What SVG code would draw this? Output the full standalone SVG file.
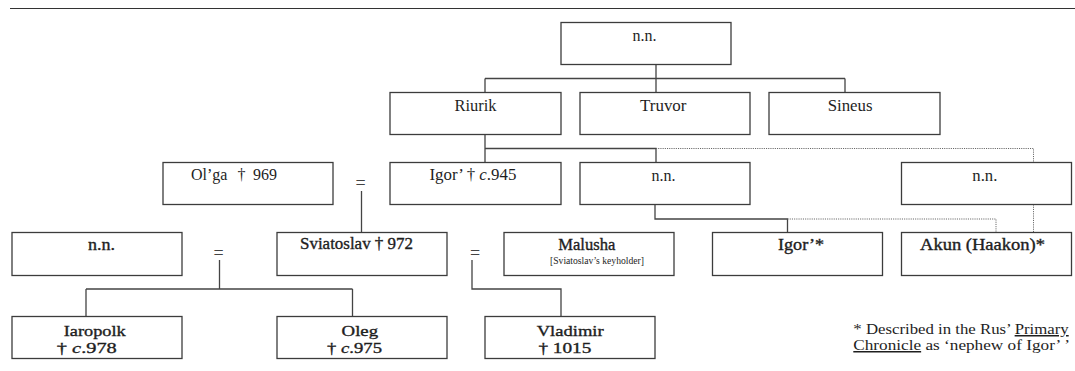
<svg xmlns="http://www.w3.org/2000/svg" width="1075" height="371" viewBox="0 0 1075 371">
<style>
.box{fill:#fff;stroke:#3c3c3c;stroke-width:1.3}
.ln{fill:none;stroke:#444;stroke-width:1.3}
.dot{fill:none;stroke:#666;stroke-width:1;stroke-dasharray:1.1 1.1}
.t{font-family:"Liberation Serif","Times New Roman",serif;font-size:16px;fill:#1e1e1e}
.b{stroke:#1e1e1e;stroke-width:0.35}
.r4{font-size:15px}
.s{font-size:10px}
.eq{font-family:"Liberation Serif","Times New Roman",serif;font-size:18px;fill:#444;text-anchor:middle}
.i{font-style:italic}
</style>
<rect width="1075" height="371" fill="#fff"/>
<line x1="10" y1="8.5" x2="1075" y2="8.5" stroke="#333" stroke-width="1.2"/>

<g id="connectors">
  <path class="ln" d="M656 64.5V78.5M485 78.5H845M485 78.5V92.5M656 78.5V92.5M845 78.5V92.5"/>
  <path class="ln" d="M485 134.5V162.5M485 148.5H656V162.5"/>
  <path class="dot" d="M656 148.5H1033.5V162.5"/>
  <path class="ln" d="M361.5 191V232.5"/>
  <path class="ln" d="M655 204.5V219H787.5V232.5"/>
  <path class="dot" d="M787.5 219H996V232.5M1033.5 204.5V232.5"/>
  <path class="ln" d="M219.5 260V289M86 289H352.5M86 289V316.5M352.5 289V316.5"/>
  <path class="ln" d="M472 260V289H561V316.5"/>
</g>

<g id="marriages">
  <text class="eq" x="360.5" y="188.5">=</text>
  <text class="eq" x="218.5" y="258.5">=</text>
  <text class="eq" x="475" y="258.5">=</text>
</g>

<g id="nn-top"><rect class="box" x="561" y="22.5" width="170" height="42"/><text class="t" x="632.5" y="40.5" textLength="24" lengthAdjust="spacingAndGlyphs">n.n.</text></g>
<g id="riurik"><rect class="box" x="390" y="92.5" width="171" height="42"/><text class="t" x="454.5" y="110.5" textLength="42" lengthAdjust="spacingAndGlyphs">Riurik</text></g>
<g id="truvor"><rect class="box" x="580" y="92.5" width="170" height="42"/><text class="t" x="640" y="110.5" textLength="46.5" lengthAdjust="spacingAndGlyphs">Truvor</text></g>
<g id="sineus"><rect class="box" x="769" y="92.5" width="171" height="42"/><text class="t" x="827.7" y="110.5" textLength="44.8" lengthAdjust="spacingAndGlyphs">Sineus</text></g>

<g id="olga"><rect class="box" x="163" y="162.5" width="170" height="42"/><text class="t" y="180"><tspan x="191">Ol’ga</tspan><tspan x="237.5">†</tspan><tspan x="253">969</tspan></text></g>
<g id="igor"><rect class="box" x="390" y="162.5" width="171" height="42"/><text class="t" x="429.4" y="180" textLength="87" lengthAdjust="spacingAndGlyphs">Igor’ † <tspan class="i">c</tspan>.945</text></g>
<g id="nn-mid"><rect class="box" x="580" y="162.5" width="170" height="42"/><text class="t" x="651.4" y="180.5" textLength="24" lengthAdjust="spacingAndGlyphs">n.n.</text></g>
<g id="nn-right"><rect class="box" x="901.5" y="162.5" width="170" height="42"/><text class="t" x="972.3" y="180.5" textLength="25" lengthAdjust="spacingAndGlyphs">n.n.</text></g>

<g id="nn-left"><rect class="box" x="12" y="232.5" width="170" height="43"/><text class="t b" x="88" y="249.5" textLength="27" lengthAdjust="spacingAndGlyphs">n.n.</text></g>
<g id="sviatoslav"><rect class="box" x="277" y="232.5" width="170" height="43"/><text class="t b" x="300" y="249" textLength="113" lengthAdjust="spacingAndGlyphs">Sviatoslav † 972</text></g>
<g id="malusha"><rect class="box" x="504" y="232.5" width="170" height="43"/><text class="t b" x="558.3" y="249.5" textLength="57" lengthAdjust="spacingAndGlyphs">Malusha</text><text class="t s" x="550" y="264" textLength="94" lengthAdjust="spacingAndGlyphs">[Sviatoslav’s keyholder]</text></g>
<g id="igor-star"><rect class="box" x="712.5" y="232.5" width="170" height="43"/><text class="t b" x="778" y="249.5" textLength="46" lengthAdjust="spacingAndGlyphs">Igor’*</text></g>
<g id="akun"><rect class="box" x="901.5" y="232.5" width="170" height="43"/><text class="t b" x="920" y="249.5" textLength="125" lengthAdjust="spacingAndGlyphs">Akun (Haakon)*</text></g>

<g id="iaropolk"><rect class="box" x="12" y="316.5" width="170" height="42"/><text class="t b r4" x="63.7" y="336" textLength="62" lengthAdjust="spacingAndGlyphs">Iaropolk</text><text class="t b r4" x="56.8" y="353" textLength="60" lengthAdjust="spacingAndGlyphs">† <tspan class="i">c</tspan>.978</text></g>
<g id="oleg"><rect class="box" x="277" y="316.5" width="170" height="42"/><text class="t b r4" x="341.6" y="336" textLength="36.5" lengthAdjust="spacingAndGlyphs">Oleg</text><text class="t b r4" x="327" y="353" textLength="55" lengthAdjust="spacingAndGlyphs">† <tspan class="i">c</tspan>.975</text></g>
<g id="vladimir"><rect class="box" x="485" y="316.5" width="170" height="42"/><text class="t b r4" x="536.7" y="336" textLength="67" lengthAdjust="spacingAndGlyphs">Vladimir</text><text class="t b r4" x="538.4" y="353" textLength="53" lengthAdjust="spacingAndGlyphs">† 1015</text></g>

<g id="footnote">
  <text class="t" x="853.3" y="334" style="font-size:15px" textLength="215.4" lengthAdjust="spacingAndGlyphs">* Described in the Rus’ <tspan text-decoration="underline">Primary</tspan></text>
  <text class="t" x="853.3" y="350" style="font-size:15px" textLength="216.7" lengthAdjust="spacingAndGlyphs"><tspan text-decoration="underline">Chronicle</tspan> as ‘nephew of  Igor’ ’</text>
</g>
</svg>
